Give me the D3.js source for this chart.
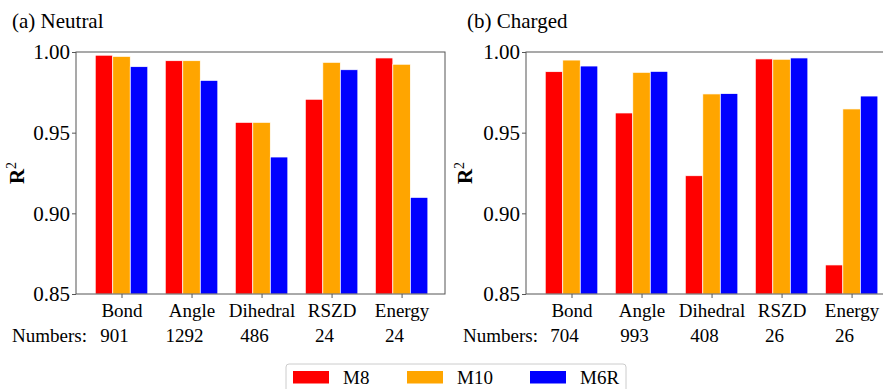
<!DOCTYPE html>
<html>
<head>
<meta charset="utf-8">
<script src="https://cdn.jsdelivr.net/npm/d3@7"></script>
<style>
  body { margin: 0; background: #fff; }
  svg text { font-family: "Liberation Serif", "Times New Roman", serif; fill: #000; }
</style>
</head>
<body>
<svg id="chart"></svg>
<script>
/* data */
var categories = ["Bond", "Angle", "Dihedral", "RSZD", "Energy"];
var series = ["M8", "M10", "M6R"];
var yTicks = [0.85, 0.90, 0.95, 1.00];

var neutralM8  = [0.998, 0.9946, 0.9564, 0.9707, 0.9963];
var neutralM10 = [0.9973, 0.9946, 0.9564, 0.9936, 0.9924];
var neutralM6R = [0.9909, 0.9824, 0.9349, 0.9890, 0.9099];
var neutralNumbers = ["901", "1292", "486", "24", "24"];

var chargedM8  = [0.9878, 0.9622, 0.9233, 0.9957, 0.8680];
var chargedM10 = [0.9950, 0.9874, 0.9740, 0.9955, 0.9647];
var chargedM6R = [0.9913, 0.9880, 0.9742, 0.9963, 0.9727];
var chargedNumbers = ["704", "993", "408", "26", "26"];

var color = d3.scaleOrdinal().domain(series).range(["#ff0000", "#ffa500", "#0000ff"]);

var svg = d3.select("#chart")
    .attr("width", 883)
    .attr("height", 389);

var plotW = 369, plotH = 242, plotTop = 52;
var barW = 0.25;
var serif = "'Liberation Serif', 'Times New Roman', serif";

function drawPanel(left, title, titleX, ylabX, vals, numbers, numbersX) {
    var x = d3.scaleLinear().domain([-0.65, 4.62]).range([left, left + plotW]);
    var y = d3.scaleLinear().domain([0.85, 1.00]).range([plotTop + plotH, plotTop]);

    var g = svg.append("g");

    // bars
    series.forEach(function(s, si) {
        g.selectAll(".bar-" + s)
          .data(vals[si])
          .enter().append("rect")
            .attr("x", function(d, i) { return x(i + (si - 1) * barW - barW / 2); })
            .attr("y", function(d) { return y(d); })
            .attr("width", x(barW) - x(0))
            .attr("height", function(d) { return y(0.85) - y(d); })
            .attr("fill", color(s))
            .attr("stroke", "#fff")
            .attr("stroke-width", 0.7);
    });

    // frame
    g.append("rect")
        .attr("x", left).attr("y", plotTop)
        .attr("width", plotW).attr("height", plotH)
        .attr("fill", "none")
        .attr("stroke", "#555")
        .attr("stroke-width", 1);

    var yaxis = g.append("g")
        .attr("transform", "translate(" + left + ",0)")
        .call(d3.axisLeft(y).tickValues(yTicks).tickFormat(d3.format(".2f")).tickSize(4).tickPadding(2));
    yaxis.select(".domain").remove();
    yaxis.selectAll("line").attr("stroke", "#555");
    yaxis.selectAll("text").attr("font-size", 21).attr("fill", "#000")
        .style("font-family", serif);

    var xaxis = g.append("g")
        .attr("transform", "translate(0," + (plotTop + plotH) + ")")
        .call(d3.axisBottom(x).tickValues(d3.range(categories.length))
            .tickFormat(function(i) { return categories[i]; }).tickSize(4).tickPadding(6));
    xaxis.select(".domain").remove();
    xaxis.selectAll("line").attr("stroke", "#555");
    xaxis.selectAll("text").attr("font-size", 19).attr("fill", "#000")
        .style("font-family", serif);

    // counts row
    svg.append("text")
        .attr("x", numbersX).attr("y", 342)
        .attr("font-size", 19)
        .text("Numbers:");
    g.selectAll(".num")
      .data(numbers)
      .enter().append("text")
        .attr("x", function(d, i) { return x(i) - 7; })
        .attr("y", 342)
        .attr("text-anchor", "middle")
        .attr("font-size", 19)
        .text(function(d) { return d; });

    // title
    svg.append("text")
        .attr("x", titleX).attr("y", 28)
        .attr("font-size", 21)
        .text(title);

    // y label R^2
    var yl = svg.append("text")
        .attr("transform", "translate(" + ylabX + "," + (plotTop + plotH / 2) + ") rotate(-90)")
        .attr("text-anchor", "middle")
        .attr("font-size", 21)
        .attr("font-weight", "bold")
        .style("font-family", serif);
    yl.append("tspan").text("R");
    yl.append("tspan").attr("font-size", 14).attr("font-weight", "normal").attr("dy", -8).text("2");
}

drawPanel(76, "(a) Neutral", 12, 24, [neutralM8, neutralM10, neutralM6R], neutralNumbers, 12);
drawPanel(526, "(b) Charged", 467, 472, [chargedM8, chargedM10, chargedM6R], chargedNumbers, 463);

// legend
var legend = svg.append("g");
legend.append("rect")
    .attr("x", 286).attr("y", 364)
    .attr("width", 340).attr("height", 40)
    .attr("rx", 3)
    .attr("fill", "#fff")
    .attr("stroke", "#ccc")
    .attr("stroke-width", 1);

var legX = [293, 407, 530];
var items = legend.selectAll(".leg")
  .data(series)
  .enter().append("g")
    .attr("transform", function(d, i) { return "translate(" + legX[i] + ",0)"; });
items.append("rect")
    .attr("x", 0).attr("y", 371)
    .attr("width", 36).attr("height", 12.5)
    .attr("fill", function(d) { return color(d); });
items.append("text")
    .attr("x", 50).attr("y", 384)
    .attr("font-size", 19)
    .text(function(d) { return d; });
</script>
</body>
</html>
